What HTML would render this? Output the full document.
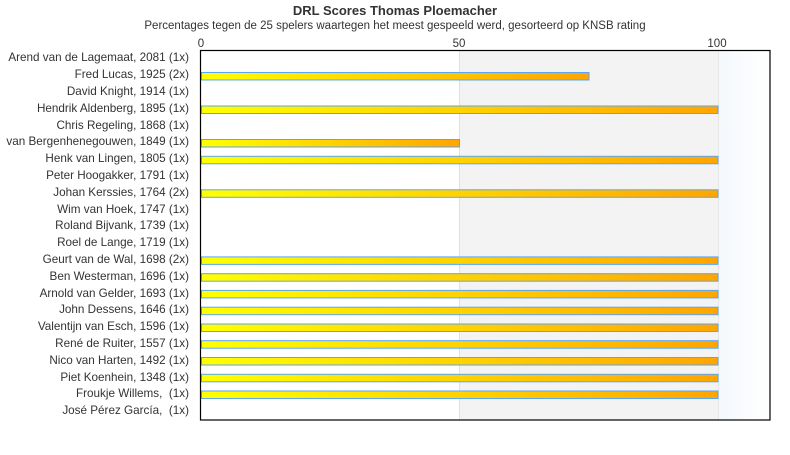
<!DOCTYPE html>
<html><head><meta charset="utf-8"><style>
body{margin:0;background:#fff}
svg text{font-family:"Liberation Sans",sans-serif;fill:#333}
</style></head><body>
<svg width="790" height="450" xmlns="http://www.w3.org/2000/svg">
<defs>
<linearGradient id="g" x1="0" x2="1" y1="0" y2="0"><stop offset="0" stop-color="#ffff00"/><stop offset="1" stop-color="#ffa500"/></linearGradient>
<linearGradient id="b" x1="0" x2="1" y1="0" y2="0"><stop offset="0" stop-color="#f4f8fc"/><stop offset="1" stop-color="#ffffff"/></linearGradient>
</defs>
<text x="395" y="15" text-anchor="middle" font-size="13" font-weight="bold">DRL Scores Thomas Ploemacher</text>
<text x="395" y="29" text-anchor="middle" font-size="11.5">Percentages tegen de 25 spelers waartegen het meest gespeeld werd, gesorteerd op KNSB rating</text>
<text x="201" y="47" text-anchor="middle" font-size="11.5">0</text>
<text x="459" y="47" text-anchor="middle" font-size="11.5">50</text>
<text x="717" y="47" text-anchor="middle" font-size="11.5">100</text>
<rect x="460" y="51" width="258" height="369" fill="#f3f3f3"/>
<rect x="718" y="51" width="52" height="369" fill="url(#b)"/>
<line x1="459.5" y1="51" x2="459.5" y2="420" stroke="#e0e0e0"/>
<line x1="718.5" y1="51" x2="718.5" y2="420" stroke="#e6e6e6"/>
<g fill="url(#g)" stroke="#5aa5f5" stroke-width="1">
<rect x="201.5" y="72.5" width="387.5" height="7.5"/>
<rect x="201.5" y="106" width="516.5" height="7.5"/>
<rect x="201.5" y="139.5" width="258" height="7.5"/>
<rect x="201.5" y="156.3" width="516.5" height="7.5"/>
<rect x="201.5" y="189.8" width="516.5" height="7.5"/>
<rect x="201.5" y="256.9" width="516.5" height="7.5"/>
<rect x="201.5" y="273.7" width="516.5" height="7.5"/>
<rect x="201.5" y="290.4" width="516.5" height="7.5"/>
<rect x="201.5" y="307.2" width="516.5" height="7.5"/>
<rect x="201.5" y="324" width="516.5" height="7.5"/>
<rect x="201.5" y="340.7" width="516.5" height="7.5"/>
<rect x="201.5" y="357.5" width="516.5" height="7.5"/>
<rect x="201.5" y="374.3" width="516.5" height="7.5"/>
<rect x="201.5" y="391" width="516.5" height="7.5"/>
</g>
<rect x="200.5" y="50.5" width="569.5" height="369.5" fill="none" stroke="#000" stroke-width="1.2"/>
<g font-size="11.7" text-anchor="end">
<text x="189" y="61">Arend van de Lagemaat, 2081 (1x)</text>
<text x="189" y="78">Fred Lucas, 1925 (2x)</text>
<text x="189" y="95">David Knight, 1914 (1x)</text>
<text x="189" y="112">Hendrik Aldenberg, 1895 (1x)</text>
<text x="189" y="129">Chris Regeling, 1868 (1x)</text>
<text x="189" y="145">van Bergenhenegouwen, 1849 (1x)</text>
<text x="189" y="162">Henk van Lingen, 1805 (1x)</text>
<text x="189" y="179">Peter Hoogakker, 1791 (1x)</text>
<text x="189" y="196">Johan Kerssies, 1764 (2x)</text>
<text x="189" y="213">Wim van Hoek, 1747 (1x)</text>
<text x="189" y="229">Roland Bijvank, 1739 (1x)</text>
<text x="189" y="246">Roel de Lange, 1719 (1x)</text>
<text x="189" y="263">Geurt van de Wal, 1698 (2x)</text>
<text x="189" y="280">Ben Westerman, 1696 (1x)</text>
<text x="189" y="297">Arnold van Gelder, 1693 (1x)</text>
<text x="189" y="313">John Dessens, 1646 (1x)</text>
<text x="189" y="330">Valentijn van Esch, 1596 (1x)</text>
<text x="189" y="347">René de Ruiter, 1557 (1x)</text>
<text x="189" y="364">Nico van Harten, 1492 (1x)</text>
<text x="189" y="381">Piet Koenhein, 1348 (1x)</text>
<text x="189" y="397">Froukje Willems,&#160; (1x)</text>
<text x="189" y="414">José Pérez García,&#160; (1x)</text>
</g>
</svg>
</body></html>
